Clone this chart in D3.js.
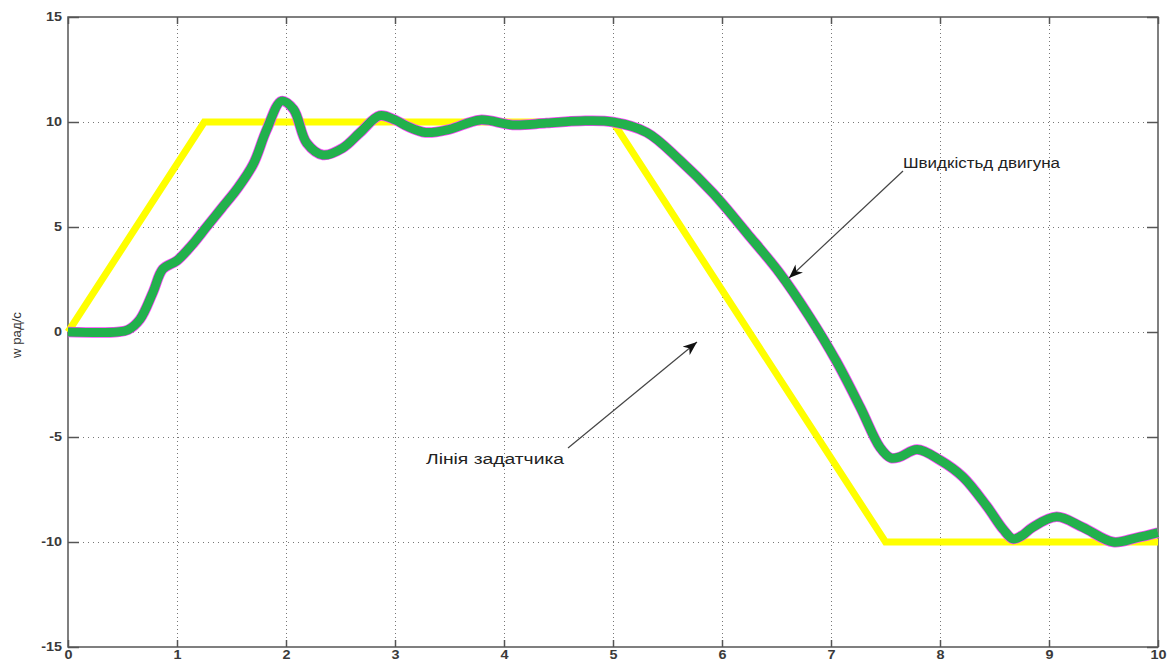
<!DOCTYPE html>
<html>
<head>
<meta charset="utf-8">
<script src="https://cdn.jsdelivr.net/npm/d3@7"></script>
<style>
  html, body { margin: 0; padding: 0; background: #fff; }
  svg { display: block; }
  text { font-family: "Liberation Sans", Arial, sans-serif; }
</style>
</head>
<body>
<script>
// Time axis (s) and speed samples of the motor response
const motorTime = [0, 0.45, 0.55, 0.66, 0.78, 0.87, 1.0, 1.13, 1.27, 1.41, 1.55, 1.70, 1.82, 1.96, 2.07, 2.19, 2.34, 2.52, 2.68, 2.86, 3.0, 3.11, 3.28, 3.5, 3.78, 4.08, 4.39, 4.70, 5.0, 5.31, 5.61, 5.92, 6.23, 6.53, 6.80, 7.05, 7.27, 7.45, 7.55, 7.63, 7.79, 8.0, 8.21, 8.43, 8.58, 8.67, 8.75, 8.85, 9.07, 9.31, 9.59, 9.8, 10.0];
const motorSpeed = [0, 0, 0.1, 0.6, 1.9, 3.0, 3.4, 4.1, 5.0, 5.9, 6.8, 8.0, 9.6, 11.0, 10.6, 9.0, 8.43, 8.76, 9.5, 10.3, 10.1, 9.8, 9.5, 9.65, 10.1, 9.86, 9.95, 10.05, 10.0, 9.5, 8.2, 6.6, 4.7, 2.8, 0.75, -1.4, -3.6, -5.5, -6.0, -5.95, -5.6, -6.1, -6.9, -8.3, -9.4, -9.85, -9.7, -9.3, -8.8, -9.3, -10.0, -9.8, -9.55];

// Setpoint (reference) profile: trapezoid
const refTime = [0, 1.25, 5, 7.5, 10];
const refSpeed = [0, 10, 10, -10, -10];

// Axis ticks
const xTicks = [0, 1, 2, 3, 4, 5, 6, 7, 8, 9, 10];
const yTicks = [-15, -10, -5, 0, 5, 10, 15];

// Labels
const yLabel = "w рад/с";
const motorNote = "Швидкістьд двигуна";
const refNote = "Лінія задатчика";

const W = 1169, H = 661;
const padL = 68, padR = 1158, padT = 17, padB = 647;

const svg = d3.select("body").append("svg").attr("width", W).attr("height", H);

const x = d3.scaleLinear().domain([0, 10]).range([padL, padR]);
const y = d3.scaleLinear().domain([-15, 15]).range([padB, padT]);

// widen text glyphs horizontally by a factor
const widen = (sel, k) => sel.each(function () {
  const len = this.getComputedTextLength();
  if (len > 0) d3.select(this).attr("textLength", len * k).attr("lengthAdjust", "spacingAndGlyphs");
});

// grid
const grid = svg.append("g").attr("stroke", "#777").attr("stroke-width", 1);
grid.selectAll("line.v").data(xTicks.slice(1, -1)).join("line")
  .attr("x1", d => Math.round(x(d)) + 0.5).attr("x2", d => Math.round(x(d)) + 0.5)
  .attr("y1", padT).attr("y2", padB)
  .attr("stroke-dasharray", "1,3");
grid.selectAll("line.h").data(yTicks.slice(1, -1)).join("line")
  .attr("y1", d => Math.round(y(d)) + 0.5).attr("y2", d => Math.round(y(d)) + 0.5)
  .attr("x1", padL).attr("x2", padR)
  .attr("stroke-dasharray", "1,4");

// axes
const axisStyle = g => {
  g.select(".domain").remove();
  g.selectAll("line").attr("stroke", "#555").attr("stroke-width", 1.5);
  g.selectAll("text").attr("fill", "#3a3a3a").attr("font-size", 12).attr("font-weight", "bold");
};
const fmt = d => String(d);

svg.append("g").attr("transform", `translate(0,${padB})`)
  .call(d3.axisBottom(x).tickValues(xTicks).tickFormat(fmt).tickSizeInner(-7).tickPadding(3))
  .call(axisStyle)
  .call(g => widen(g.selectAll("text"), 1.2));
svg.append("g").attr("transform", `translate(0,${padT})`)
  .call(d3.axisTop(x).tickValues(xTicks).tickFormat("").tickSizeInner(-7))
  .call(axisStyle);
svg.append("g").attr("transform", `translate(${padL},0)`)
  .call(d3.axisLeft(y).tickValues(yTicks).tickFormat(fmt).tickSizeInner(-11).tickPadding(6))
  .call(axisStyle)
  .call(g => widen(g.selectAll("text"), 1.2));
svg.append("g").attr("transform", `translate(${padR},0)`)
  .call(d3.axisRight(y).tickValues(yTicks).tickFormat("").tickSizeInner(-11))
  .call(axisStyle);

// frame
svg.append("rect").attr("x", padL).attr("y", padT)
  .attr("width", padR - padL).attr("height", padB - padT)
  .attr("fill", "none").attr("stroke", "#555").attr("stroke-width", 1.5);

// setpoint line
const refData = refTime.map((t, i) => [t, refSpeed[i]]);
svg.append("path").datum(refData)
  .attr("fill", "none").attr("stroke", "#ffff00").attr("stroke-width", 7)
  .attr("stroke-linejoin", "miter")
  .attr("d", d3.line().x(d => x(d[0])).y(d => y(d[1])));

// motor speed line (magenta edge under a green core)
const motorData = motorTime.map((t, i) => [t, motorSpeed[i]]);
const motorLine = d3.line().x(d => x(d[0])).y(d => y(d[1])).curve(d3.curveCatmullRom.alpha(0.5));
svg.append("path").datum(motorData)
  .attr("fill", "none").attr("stroke", "#ff40ff").attr("stroke-width", 10.5)
  .attr("stroke-linejoin", "round").attr("d", motorLine);
svg.append("path").datum(motorData)
  .attr("fill", "none").attr("stroke", "#22b14c").attr("stroke-width", 9)
  .attr("stroke-linejoin", "round").attr("d", motorLine);

// y label
svg.append("text")
  .attr("transform", `translate(21,335) rotate(-90)`)
  .attr("text-anchor", "middle")
  .attr("font-size", 12).attr("fill", "#333")
  .attr("textLength", 46).attr("lengthAdjust", "spacingAndGlyphs")
  .text(yLabel);

// annotations with arrows
svg.append("defs").append("marker")
  .attr("id", "head").attr("viewBox", "0 -6 14 12")
  .attr("refX", 14).attr("refY", 0)
  .attr("markerWidth", 14).attr("markerHeight", 12)
  .attr("markerUnits", "userSpaceOnUse")
  .attr("orient", "auto")
  .append("path").attr("d", "M0,-5.5L14,0L0,5.5L4,0Z").attr("fill", "#111");

svg.append("line")
  .attr("x1", 903).attr("y1", 171).attr("x2", 789).attr("y2", 278)
  .attr("stroke", "#444").attr("stroke-width", 1.2)
  .attr("marker-end", "url(#head)");
svg.append("text").attr("x", 903).attr("y", 168)
  .attr("font-size", 14).attr("fill", "#222")
  .attr("textLength", 157).attr("lengthAdjust", "spacingAndGlyphs")
  .text(motorNote);

svg.append("line")
  .attr("x1", 568).attr("y1", 448).attr("x2", 697).attr("y2", 342)
  .attr("stroke", "#444").attr("stroke-width", 1.2)
  .attr("marker-end", "url(#head)");
svg.append("text").attr("x", 426).attr("y", 464)
  .attr("font-size", 14).attr("fill", "#222")
  .attr("textLength", 138).attr("lengthAdjust", "spacingAndGlyphs")
  .text(refNote);
</script>
</body>
</html>
